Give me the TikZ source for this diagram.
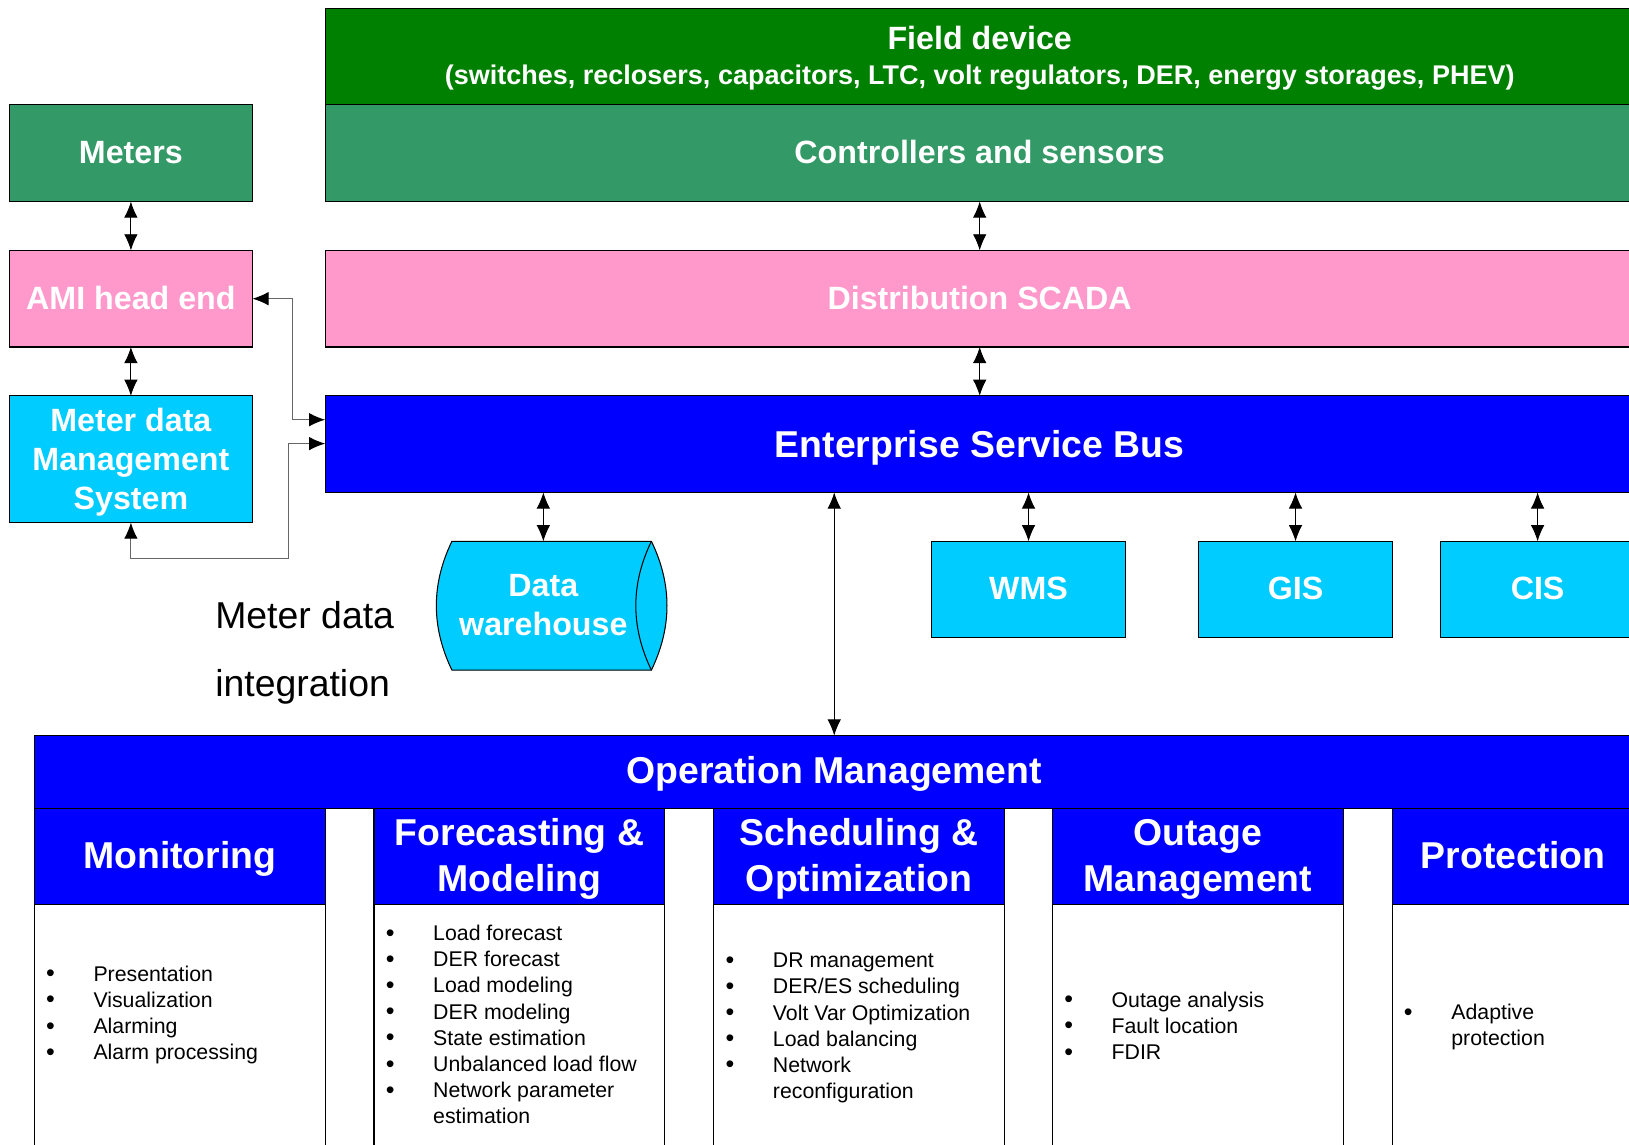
\documentclass[tikz,border=0pt]{standalone}
\usepackage{fontspec}
\setmainfont{Liberation Sans}
\usetikzlibrary{arrows.meta}
\definecolor{fgreen}{HTML}{008000}
\definecolor{cgreen}{HTML}{339966}
\definecolor{mpink}{HTML}{FF99CC}
\definecolor{mcyan}{HTML}{00CCFF}
\definecolor{mblue}{HTML}{0000FF}
\newcommand\fA{\fontsize{31}{38}\selectfont\bfseries}
\newcommand\fAm{\fontsize{31}{37.5}\selectfont\bfseries}
\newcommand\fB{\fontsize{36}{44}\selectfont\bfseries}
\newcommand\fC{\fontsize{26}{31}\selectfont\bfseries}
\newcommand\fL{\fontsize{20.5}{25.2}\selectfont}
\newcommand\fM{\fontsize{36}{65}\selectfont}
\newcommand\bl{\makebox[45.6pt][l]{\raisebox{-0.5pt}{\fontsize{24}{25.2}\selectfont\textbullet}}}
\newcommand\tabc[1]{\begin{tabular}[t]{@{}c@{}}#1\end{tabular}}
\newcommand\tabl[1]{\begin{tabular}[t]{@{}l@{}l@{}}#1\end{tabular}}
\begin{document}
\begin{tikzpicture}[x=1pt,y=-1pt,
  blk/.style={draw=black,line width=1pt,inner sep=0pt,outer sep=0pt},
  lbl/.style={text=white,anchor=base,inner sep=0pt,outer sep=0pt},
  lst/.style={anchor=base west,inner sep=0pt,outer sep=0pt,font=\fL},
  dbl/.style={line width=0.9pt,{Latex[length=15.5pt,width=13pt]}-{Latex[length=15.5pt,width=13pt]}},
  elb/.style={line width=1pt,draw=black!60,{Latex[length=15.5pt,width=13pt,color=black]}-{Latex[length=15.5pt,width=13pt,color=black]}},
]
\useasboundingbox (0,0) rectangle (1568,1102);
\fill[white] (0,0) rectangle (1568,1102);
\clip (0,0) rectangle (1568,1102);

% top boxes
\node[blk,fill=fgreen,minimum width=1260pt,minimum height=93pt] (field) at (943,54.5) {};
\node[blk,fill=cgreen,minimum width=1260pt,minimum height=93pt] (ctrl) at (943,147.5) {};
\node[blk,fill=cgreen,minimum width=234pt,minimum height=93pt] (meters) at (126,147.5) {};
\node[blk,fill=mpink,minimum width=234pt,minimum height=93pt] (ami) at (126,287.5) {};
\node[blk,fill=mpink,minimum width=1260pt,minimum height=93pt] (scada) at (943,287.5) {};
\node[blk,fill=mcyan,minimum width=234pt,minimum height=122pt] (mdms) at (126,442) {};
\node[blk,fill=mblue,minimum width=1260pt,minimum height=93pt] (esb) at (943,427.5) {};
\node[blk,fill=mcyan,minimum width=186pt,minimum height=93pt] (wms) at (990,567.5) {};
\node[blk,fill=mcyan,minimum width=186pt,minimum height=93pt] (gis) at (1247,567.5) {};
\node[blk,fill=mcyan,minimum width=186pt,minimum height=93pt] (cis) at (1480,567.5) {};

% data warehouse cylinder
\draw[line width=1pt,fill=mcyan] (435,521) .. controls (415,562.3) and (415,603.7) .. (435,645) -- (627,645)
  .. controls (647,603.7) and (647,562.3) .. (627,521) -- cycle;
\draw[line width=1pt] (627,521) .. controls (607,562.3) and (607,603.7) .. (627,645);
\coordinate (dwtop) at (523,521);

% operation management
\node[blk,fill=mblue,minimum width=1540pt,minimum height=70pt] (om) at (803,743) {};
\node[blk,fill=mblue,minimum width=280pt,minimum height=93pt] (hmon) at (173,824.5) {};
\node[blk,fill=mblue,minimum width=280pt,minimum height=93pt] (hfor) at (500,824.5) {};
\node[blk,fill=mblue,minimum width=280pt,minimum height=93pt] (hsch) at (827,824.5) {};
\node[blk,fill=mblue,minimum width=280pt,minimum height=93pt] (hout) at (1153,824.5) {};
\node[blk,fill=mblue,minimum width=233pt,minimum height=93pt] (hpro) at (1456.5,824.5) {};
\node[blk,fill=white,minimum width=280pt,minimum height=249pt] (bmon) at (173,995.5) {};
\node[blk,fill=white,minimum width=280pt,minimum height=249pt] (bfor) at (500,995.5) {};
\node[blk,fill=white,minimum width=280pt,minimum height=249pt] (bsch) at (827,995.5) {};
\node[blk,fill=white,minimum width=280pt,minimum height=249pt] (bout) at (1153,995.5) {};
\node[blk,fill=white,minimum width=233pt,minimum height=249pt] (bpro) at (1456.5,995.5) {};

% connectors
\draw[dbl] (meters.south) -- (ami.north);
\draw[dbl] (ami.south) -- (mdms.north);
\draw[dbl] (ctrl.south) -- (scada.north);
\draw[dbl] (scada.south) -- (esb.north);
\draw[dbl] (esb.south -| dwtop) -- (dwtop);
\draw[dbl] (esb.south -| om.north) -- (om.north);
\draw[dbl] (esb.south -| wms.north) -- (wms.north);
\draw[dbl] (esb.south -| gis.north) -- (gis.north);
\draw[dbl] (esb.south -| cis.north) -- (cis.north);
\coordinate (esbA) at (313,404);
\coordinate (esbB) at (313,427);
\coordinate (jogA) at (282,287.5);
\coordinate (jogB) at (278,538);
\draw[elb] (ami.east) -- (jogA) |- (esbA);
\draw[elb] (mdms.south) |- (jogB) |- (esbB);

% labels
\node[lbl,font=\fA] (tfield1) at (943,48) {Field device};
\node[lbl,font=\fC] (tfield2) at (943,81) {(switches, reclosers, capacitors, LTC, volt regulators, DER, energy storages, PHEV)};
\node[lbl,font=\fA] (tctrl) at (943,157) {Controllers and sensors};
\node[lbl,font=\fA] (tmeters) at (126,157) {Meters};
\node[lbl,font=\fA] (tami) at (126,298) {AMI head end};
\node[lbl,font=\fA] (tscada) at (943,298) {Distribution SCADA};
\node[lbl] (tmdms) at (126,415) {\fAm\tabc{Meter data\\Management\\System}};
\node[lbl,font=\fB] (tesb) at (943,440) {Enterprise Service Bus};
\node[lbl] (tdw) at (523,574) {\fA\tabc{Data\\warehouse}};
\node[lbl,font=\fA] (twms) at (990,577) {WMS};
\node[lbl,font=\fA] (tgis) at (1247,577) {GIS};
\node[lbl,font=\fA] (tcis) at (1480,577) {CIS};
\node[anchor=base west,inner sep=0pt] (tmdi) at (207,605) {\fM\begin{tabular}[t]{@{}l@{}}Meter data\\integration\end{tabular}};
\node[lbl,font=\fB] (tom) at (803,754) {Operation Management};
\node[lbl,font=\fB] (tmon) at (173,836) {Monitoring};
\node[lbl] (tfor) at (500,814) {\fB\tabc{Forecasting \&\\Modeling}};
\node[lbl] (tsch) at (827,814) {\fB\tabc{Scheduling \&\\Optimization}};
\node[lbl] (tout) at (1153,814) {\fB\tabc{Outage\\Management}};
\node[lbl,font=\fB] (tpro) at (1456.5,836) {Protection};

% lists
\node[lst] (lmon) at (44.4,944.4) {\fL\tabl{\bl&Presentation\\\bl&Visualization\\\bl&Alarming\\\bl&Alarm processing}};
\node[lst] (lfor) at (371.4,905.4) {\fL\tabl{\bl&Load forecast\\\bl&DER forecast\\\bl&Load modeling\\\bl&DER modeling\\\bl&State estimation\\\bl&Unbalanced load flow\\\bl&Network parameter\\&estimation}};
\node[lst] (lsch) at (698.4,931.4) {\fL\tabl{\bl&DR management\\\bl&DER/ES scheduling\\\bl&Volt Var Optimization\\\bl&Load balancing\\\bl&Network\\&reconfiguration}};
\node[lst] (lout) at (1024.4,969.4) {\fL\tabl{\bl&Outage analysis\\\bl&Fault location\\\bl&FDIR}};
\node[lst] (lpro) at (1351.4,981.4) {\fL\tabl{\bl&Adaptive\\&protection}};
\end{tikzpicture}
\end{document}
